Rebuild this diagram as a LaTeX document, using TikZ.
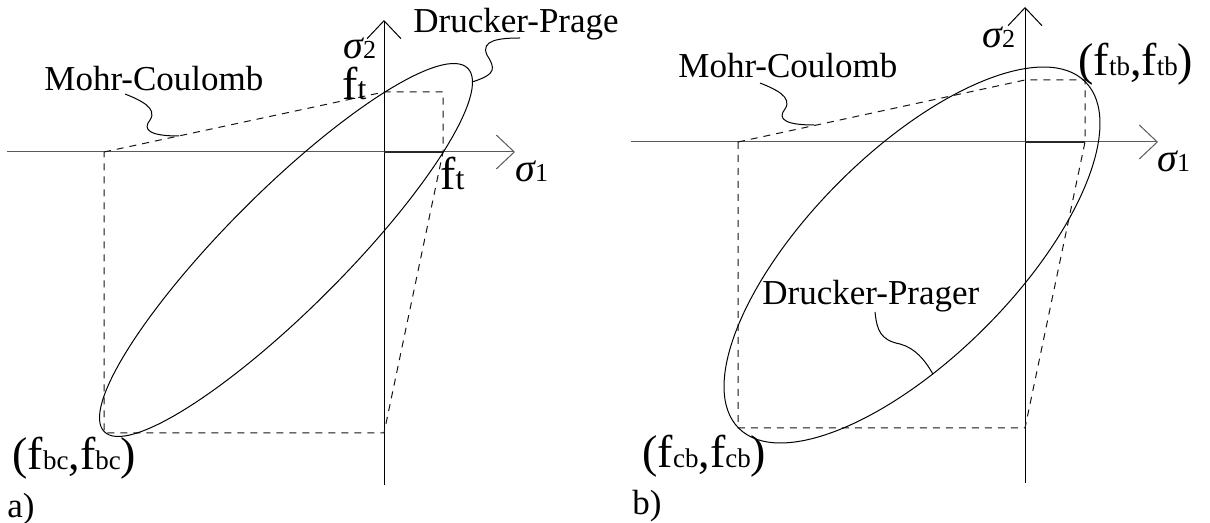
\documentclass[tikz,border=0pt]{standalone}
\usepackage{fontspec}
\setmainfont{Liberation Serif}
\usepackage{xcolor}
\usepackage{tikz}
\usetikzlibrary{arrows.meta,shapes.geometric}
\definecolor{axisgrey}{RGB}{90,90,90}
\definecolor{boundgrey}{RGB}{40,40,40}
\definecolor{dashgrey}{RGB}{20,20,20}
\tikzset{
  axis/.style={line width=0.5pt,
    -{Straight Barb[length=9pt,width=17pt,line width=0.5pt]}},
  haxis/.style={axis,draw=axisgrey},
  vaxis/.style={axis,draw=black},
  tensioncut/.style={line width=1.1pt,draw=boundgrey},
  mohrline/.style={line width=0.5pt,draw=dashgrey,dash pattern=on 3.5pt off 3pt},
  drucker/.style={draw,ellipse,inner sep=0pt,line width=0.5pt},
  leader/.style={line width=0.5pt},
  txtlabel/.style={anchor=base west,inner sep=0pt,
    font=\fontsize{17.5}{20}\selectfont},
  mathlabel/.style={anchor=base west,inner sep=0pt}
}
\newcommand{\stressax}[1]{{\fontsize{20}{22}\selectfont\itshape σ}{\fontsize{13}{15}\selectfont #1}}
\newcommand{\fsub}[2][13.5]{{\fontsize{23}{26}\selectfont f}{\fontsize{#1}{#1}\selectfont #2}}
\newcommand{\fpair}[1]{{\fontsize{23}{26}\selectfont (}\fsub{#1}{\fontsize{23}{26}\selectfont ,}\fsub{#1}{\fontsize{23}{26}\selectfont )}}

\begin{document}
\begin{tikzpicture}[x=0.5pt,y=-0.5pt]
  \useasboundingbox (0,0) rectangle (1210,523);
  % panel a
  \coordinate (oa) at (384,152);
  \coordinate (xa0) at (7,152);
  \coordinate (xa1) at (515,152);
  \coordinate (ya0) at (384,485);
  \coordinate (ya1) at (384,20);
  \coordinate (mca1) at (104,152);
  \coordinate (mca2) at (384,92);
  \coordinate (mca3) at (443,92);
  \coordinate (mca4) at (443,152);
  \coordinate (mca5) at (384,433);
  \coordinate (mca6) at (104,433);
  \coordinate (mcaTop) at (125,94);
  \coordinate (mcaFoot) at (179,136);
  \coordinate (dpaTop) at (520,38);
  \draw[haxis] (xa0) -- (xa1);
  \draw[vaxis] (ya0) -- (ya1);
  \draw[mohrline] (mca1) -- (mca2) -- (mca3) -- (mca4) -- (mca5) -- (mca6) -- cycle;
  \draw[tensioncut] (oa) -- (mca4);
  \node[drucker,minimum width=257pt,minimum height=59pt,rotate=45] (dpa) at (286,250) {};
  \node[txtlabel] (mclabela) at (44,91) {Mohr-Coulomb};
  \node[txtlabel] (dplabela) at (413,33) {Drucker-Prage};
  \node[mathlabel] (s2a) at (343,59) {\stressax{2}};
  \node[mathlabel] (s1a) at (515,182) {\stressax{1}};
  \node[mathlabel] (fta) at (342,100) {\fsub[16]{t}};
  \node[mathlabel] (ftb) at (440,190) {\fsub[16]{t}};
  \node[mathlabel] (fbca) at (12,470) {\fpair{bc}};
  \node[txtlabel] (tagA) at (7,517) {a)};
  \draw[leader] (mcaTop) .. controls (140,100) and (158,108) .. (150,120)
    .. controls (142,130) and (150,136) .. (mcaFoot);
  \draw[leader] (dpaTop) .. controls (500,38) and (480,40) .. (487,55)
    .. controls (495,68) and (497,74) .. (dpa.-3);
  % panel b
  \coordinate (ob) at (1025,142);
  \coordinate (xb0) at (631,142);
  \coordinate (xb1) at (1158,142);
  \coordinate (yb0) at (1025,483);
  \coordinate (yb1) at (1025,7);
  \coordinate (mcb1) at (738,142);
  \coordinate (mcb2) at (1025,80);
  \coordinate (mcb3) at (1085,80);
  \coordinate (mcb4) at (1085,142);
  \coordinate (mcb5) at (1025,428);
  \coordinate (mcb6) at (738,428);
  \coordinate (mcbTop) at (760,83);
  \coordinate (mcbFoot) at (814,125);
  \coordinate (dpbTop) at (875,312);
  \draw[haxis] (xb0) -- (xb1);
  \draw[vaxis] (yb0) -- (yb1);
  \draw[mohrline] (mcb1) -- (mcb2) -- (mcb3) -- (mcb4) -- (mcb5) -- (mcb6) -- cycle;
  \draw[tensioncut] (ob) -- (mcb4);
  \node[drucker,minimum width=245pt,minimum height=103pt,rotate=45] (dpb) at (912,255) {};
  \node[txtlabel] (mclabelb) at (678,78) {Mohr-Coulomb};
  \node[txtlabel] (dplabelb) at (762,305) {Drucker-Prager};
  \node[mathlabel] (s2b) at (982,48) {\stressax{2}};
  \node[mathlabel] (s1b) at (1157,172) {\stressax{1}};
  \node[mathlabel] (ftbb) at (1078,76) {\fpair{tb}};
  \node[mathlabel] (fcbb) at (642,467) {\fpair{cb}};
  \node[txtlabel] (tagB) at (632,515) {b)};
  \draw[leader] (mcbTop) .. controls (775,89) and (793,97) .. (785,109)
    .. controls (777,119) and (785,125) .. (mcbFoot);
  \draw[leader] (dpbTop) .. controls (877,330) and (880,340) .. (900,344)
    .. controls (915,348) and (925,360) .. (dpb.-125);
\end{tikzpicture}
\end{document}
